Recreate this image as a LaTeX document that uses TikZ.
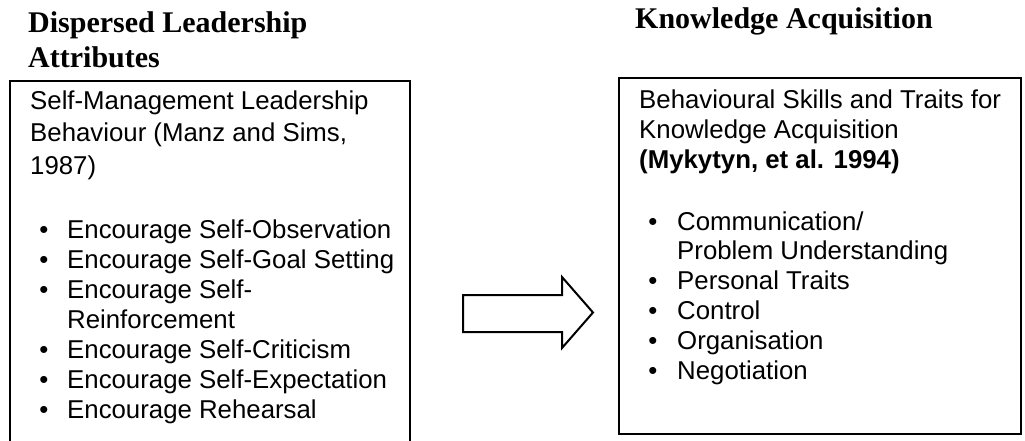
\documentclass[tikz,border=0pt]{standalone}
\usepackage{fontspec}
\setmainfont{Liberation Sans}
\newfontfamily\titlefont{Liberation Serif}
\begin{document}
\begin{tikzpicture}[x=1pt,y=-1pt,
  body/.style={anchor=base west, inner sep=0pt, font=\fontsize{25.8}{30}\selectfont},
  bodyb/.style={anchor=base west, inner sep=0pt, font=\fontsize{25.8}{30}\selectfont\bfseries},
  ttl/.style={anchor=base west, inner sep=0pt, font=\titlefont\fontsize{30}{35}\selectfont\bfseries},
  bul/.style={anchor=base, inner sep=0pt, font=\fontsize{25.8}{30}\selectfont},
  frame/.style={draw, line width=2pt, inner sep=0pt, anchor=north west},
  blockarrow/.style={draw, line width=2pt, line join=miter, fill=white},
]
\useasboundingbox[fill=white] (0,0) rectangle (1025,441);
\clip (0,0) rectangle (1025,441);
% titles
\node[ttl] (tl1) at (28,33) {Dispersed Leadership};
\node[ttl] (tl2) at (28,68) {Attributes};
\node[ttl] (tr1) at (635,29) {Knowledge Acquisition};
% boxes
\node[frame, minimum width=400pt, minimum height=380pt] (lbox) at (9,80) {};
\node[frame, minimum width=402pt, minimum height=356pt] (rbox) at (618,77) {};
% left box text
\node[body] (l1) at (30,110) {Self-Management Leadership};
\node[body] (l2) at (30,142) {Behaviour (Manz and Sims,};
\node[body] (l3) at (30,174) {1987)};
\node[bul] (lb1) at (44,238) {•};
\node[body] (li1) at (67,238) {Encourage Self-Observation};
\node[bul] (lb2) at (44,268) {•};
\node[body] (li2) at (67,268) {Encourage Self-Goal Setting};
\node[bul] (lb3) at (44,298) {•};
\node[body] (li3) at (67,298) {Encourage Self-};
\node[body] (li3b) at (67,328) {Reinforcement};
\node[bul] (lb4) at (44,358) {•};
\node[body] (li4) at (67,358) {Encourage Self-Criticism};
\node[bul] (lb5) at (44,388) {•};
\node[body] (li5) at (67,388) {Encourage Self-Expectation};
\node[bul] (lb6) at (44,418) {•};
\node[body] (li6) at (67,418) {Encourage Rehearsal};
% right box text
\node[body] (r1) at (639,109) {Behavioural Skills and Traits for};
\node[body] (r2) at (639,139) {Knowledge Acquisition};
\node[bodyb] (r3) at (639,168) {(Mykytyn, et al. 1994)};
\node[bul] (rb1) at (653,230) {•};
\node[body] (ri1) at (677,230) {Communication/};
\node[body] (ri1b) at (677,259) {Problem Understanding};
\node[bul] (rb2) at (653,289) {•};
\node[body] (ri2) at (677,289) {Personal Traits};
\node[bul] (rb3) at (653,319) {•};
\node[body] (ri3) at (677,319) {Control};
\node[bul] (rb4) at (653,349) {•};
\node[body] (ri4) at (677,349) {Organisation};
\node[bul] (rb5) at (653,379) {•};
\node[body] (ri5) at (677,379) {Negotiation};
% block arrow
\draw[blockarrow] (463,295) -- (562,295) -- (562,277) -- (593,312.5) -- (562,348) -- (562,332) -- (463,332) -- cycle;
\end{tikzpicture}
\end{document}
